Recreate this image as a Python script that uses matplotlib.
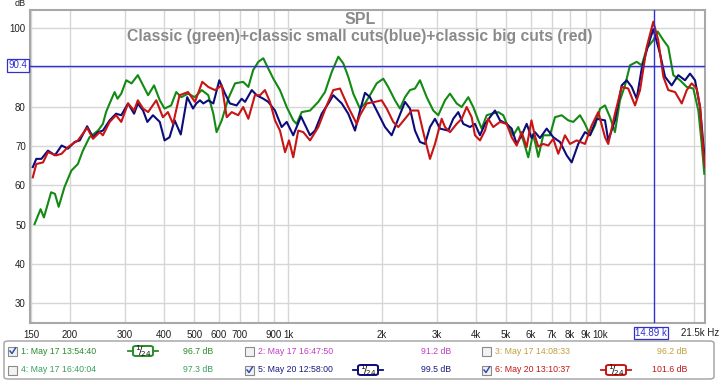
import matplotlib
matplotlib.use("Agg")
import matplotlib.pyplot as plt
from matplotlib.patches import FancyBboxPatch, Rectangle
from matplotlib.lines import Line2D

plt.rcParams['font.family'] = ['Liberation Sans', 'DejaVu Sans']

# ---------------- data ----------------
green_freq = [154, 161, 165, 174, 179, 184, 192, 202, 212, 220, 231, 246, 255, 261, 268, 278, 284, 292, 303, 315,
              330, 343, 356, 372, 388, 402, 422, 438, 455, 478, 502, 529, 555, 576, 590, 613, 643, 676, 718, 746,
              773, 803, 833, 854, 897, 942, 990, 1039, 1065, 1106, 1176, 1250, 1313, 1380, 1449, 1503, 1559, 1618,
              1700, 1764, 1830, 1923, 2019, 2094, 2201, 2284, 2370, 2459, 2551, 2647, 2782, 2920, 3029, 3184, 3303,
              3470, 3601, 3781, 3922, 4070, 4174, 4331, 4493, 4717, 4895, 5078, 5270, 5467, 5673, 5886, 6093, 6231,
              6337, 6575, 6910, 7169, 7533, 7907, 8204, 8622, 8946, 9282, 9631, 10000, 10370, 10760, 11160, 11580,
              12020, 12470, 13100, 13600, 14110, 14810, 15300, 15950, 16540, 17170, 18040, 18960, 19900, 20650,
              21170, 21580]
green_db = [50.1, 53.9, 51.8, 58.2, 57.8, 54.5, 59.5, 63.7, 65.4, 68.8, 72.2, 73.9, 75.6, 78.6, 80.8, 83.7, 82.0,
            83.3, 86.7, 85.9, 88.0, 85.4, 82.9, 85.4, 81.6, 79.5, 80.3, 83.7, 82.4, 83.3, 82.4, 84.2, 82.9, 78.2,
            73.5, 76.5, 82.0, 85.9, 86.3, 85.0, 89.3, 91.4, 92.3, 90.5, 87.1, 84.2, 79.9, 76.5, 75.6, 78.6, 79.0,
            81.2, 83.7, 88.8, 92.7, 91.0, 87.6, 83.3, 79.5, 80.8, 82.9, 85.9, 87.1, 85.0, 81.6, 79.5, 82.4, 84.2,
            84.6, 86.7, 82.4, 79.0, 77.8, 81.6, 83.3, 80.8, 79.9, 82.4, 79.9, 76.5, 74.4, 77.8, 78.2, 78.6, 77.8,
            74.8, 72.7, 74.8, 71.4, 67.1, 73.0, 70.0, 67.2, 72.7, 72.7, 77.3, 77.8, 76.5, 76.1, 77.8, 75.6, 72.7,
            75.2, 79.5, 80.3, 77.3, 73.5, 81.6, 85.4, 90.5, 91.4, 90.5, 94.8, 96.9, 99.1, 96.9, 95.2, 88.0, 86.7,
            85.0, 84.6, 79.0, 70.5, 62.9]

blue_freq = [152, 156, 162, 170, 179, 188, 197, 207, 215, 227, 237, 246, 255, 268, 281, 292, 307, 321, 330, 343,
             354, 369, 388, 402, 417, 433, 453, 475, 496, 508, 522, 535, 555, 576, 602, 628, 651, 684, 710, 728,
             765, 793, 833, 864, 908, 954, 990, 1039, 1100, 1176, 1220, 1282, 1346, 1396, 1486, 1559, 1639, 1700,
             1764, 1830, 1923, 2045, 2148, 2255, 2370, 2459, 2551, 2647, 2747, 2850, 2957, 3068, 3261, 3384, 3511,
             3644, 3829, 3972, 4122, 4277, 4437, 4604, 4777, 5019, 5208, 5404, 5607, 5817, 6036, 6185, 6418, 6743,
             7079, 7439, 7815, 8109, 8513, 8946, 9282, 9752, 10370, 10620, 11160, 11730, 12170, 12630, 13100, 13600,
             14270, 14810, 15560, 16150, 16960, 17810, 18720, 19420, 20150, 20910, 21420, 21690]
blue_db = [64.6, 66.7, 66.7, 68.8, 67.6, 70.1, 69.3, 71.0, 71.4, 75.0, 72.2, 73.5, 73.9, 76.5, 78.2, 77.8, 80.8,
           78.2, 80.8, 79.0, 76.1, 77.8, 76.1, 71.4, 72.2, 76.5, 72.9, 82.4, 79.5, 80.8, 81.6, 80.8, 81.6, 80.8,
           86.7, 83.3, 80.8, 80.3, 82.0, 81.2, 84.2, 82.9, 82.0, 81.2, 79.0, 74.8, 76.1, 72.7, 77.5, 72.7, 73.9,
           78.2, 80.8, 82.9, 80.8, 78.2, 73.9, 79.0, 83.5, 82.4, 79.0, 74.8, 72.7, 76.9, 81.2, 79.5, 73.9, 71.0,
           70.5, 74.8, 76.9, 74.4, 73.9, 76.9, 78.6, 75.6, 74.8, 75.6, 72.7, 75.6, 77.3, 79.0, 76.5, 75.6, 74.4,
           70.5, 72.7, 75.6, 72.0, 73.5, 72.0, 74.4, 72.2, 71.0, 67.6, 65.8, 70.5, 73.5, 72.7, 76.9, 76.5, 71.4,
           76.5, 85.4, 86.7, 85.0, 82.0, 89.7, 95.7, 99.7, 93.5, 87.6, 85.4, 88.0, 86.7, 88.4, 86.7, 79.9, 70.5,
           66.0]

red_freq = [152, 156, 164, 170, 181, 188, 197, 212, 227, 237, 249, 255, 268, 281, 292, 307, 321, 330, 343, 356,
            378, 397, 412, 428, 449, 478, 503, 531, 555, 583, 613, 636, 660, 692, 718, 746, 783, 813, 843, 875,
            908, 942, 978, 1007, 1039, 1078, 1119, 1176, 1250, 1330, 1396, 1467, 1559, 1660, 1700, 1786, 1899,
            1995, 2071, 2173, 2255, 2370, 2490, 2614, 2712, 2850, 2957, 3107, 3184, 3303, 3470, 3601, 3736, 3877,
            3972, 4122, 4277, 4381, 4546, 4777, 5019, 5208, 5404, 5607, 5817, 6027, 6185, 6337, 6575, 6823, 7079,
            7345, 7718, 8008, 8414, 8946, 9399, 9868, 10370, 10620, 11160, 11730, 12310, 12940, 13430, 14110,
            14810, 15360, 15950, 16540, 17390, 18270, 18960, 19660, 20400, 20910, 21420, 21690]
red_db = [62.0, 65.4, 65.8, 68.4, 67.6, 68.0, 69.7, 71.4, 74.6, 71.8, 73.5, 72.7, 76.1, 77.8, 76.1, 80.8, 79.0,
          81.6, 79.5, 78.6, 81.6, 77.3, 78.6, 75.6, 82.9, 83.7, 81.2, 86.3, 85.0, 84.2, 85.4, 77.3, 78.6, 77.8,
          79.9, 76.9, 82.9, 82.9, 84.2, 81.2, 76.5, 73.9, 68.4, 71.4, 67.1, 73.9, 73.5, 71.4, 74.8, 80.3, 84.2,
          84.6, 79.9, 75.6, 77.8, 80.8, 81.2, 81.6, 79.5, 76.1, 74.8, 76.9, 79.0, 79.0, 73.5, 66.7, 70.5, 76.9,
          74.8, 73.5, 75.6, 76.9, 79.9, 77.3, 72.7, 71.4, 73.9, 76.9, 74.8, 76.1, 75.6, 72.2, 70.1, 73.5, 69.7,
          76.5, 72.5, 69.8, 70.5, 70.1, 71.8, 68.0, 72.7, 70.5, 71.4, 70.5, 75.2, 78.6, 72.2, 70.5, 78.2, 85.0,
          84.6, 80.3, 84.2, 95.2, 101.6, 96.9, 87.6, 84.2, 83.7, 80.8, 84.2, 85.9, 84.6, 79.9, 68.8, 64.6]

grid_freqs = [150, 200, 300, 400, 500, 600, 700, 800, 900, 1000, 2000, 3000, 4000, 5000, 6000, 7000, 8000,
              9000, 10000, 20000]
grid_labels = ["150", "200", "300", "400", "500", "600", "700", "", "900", "1k", "2k", "3k", "4k", "5k", "6k",
               "7k", "8k", "9k", "10k", ""]
y_ticks = [30, 40, 50, 60, 70, 80, 90, 100]
y_labels = ["30", "40", "50", "60", "70", "80", "", "100"]

cursor_freq = 14890
cursor_db = 90.4

legend_rows = [
    [("1: May 17 13:54:40", "96.7 dB", "#2a8c2a", True, True),
     ("2: May 17 16:47:50", "91.2 dB", "#c040c0", False, False),
     ("3: May 17 14:08:33", "96.2 dB", "#c0a040", False, False)],
    [("4: May 17 16:40:04", "97.3 dB", "#3aa060", False, False),
     ("5: May 20 12:58:00", "99.5 dB", "#1a1a80", True, True),
     ("6: May 20 13:10:37", "101.6 dB", "#c01818", True, True)],
]

GREEN = "#138a13"
BLUE = "#0c0c7a"
RED = "#c81414"
CURSOR = "#3030d0"

# ---------------- figure ----------------
W, H = 719, 381
fig = plt.figure(figsize=(W / 100, H / 100), dpi=100)


def fx(x):
    return x / W


def fy(y):
    return 1 - y / H


L, R, T, B = 30, 705, 10, 323
ax = fig.add_axes([fx(L), fy(B), (R - L) / W, (B - T) / H])
ax.set_xscale("log")
ax.set_xlim(148.9, 21690)
ax.set_ylim(100 - (B - 28) / 3.93, 100 + (28 - T) / 3.93)

ax.set_xticks(grid_freqs)
ax.set_xticklabels(grid_labels)
ax.xaxis.set_minor_locator(matplotlib.ticker.NullLocator())
ax.set_yticks(y_ticks)
ax.set_yticklabels(y_labels)
ax.tick_params(axis="both", length=0, labelsize=7, colors="#202020")
ax.tick_params(axis="x", pad=5)
ax.tick_params(axis="y", pad=3)
ax.grid(True, color="#d6d6d6", lw=1.0)
ax.set_axisbelow(True)
for s in ax.spines.values():
    s.set_color("#a8a8a8")
    s.set_linewidth(1.5)

ax.plot(green_freq, green_db, color=GREEN, lw=1.5, zorder=3, solid_joinstyle="round")
ax.plot(blue_freq, blue_db, color=BLUE, lw=1.5, zorder=4, solid_joinstyle="round")
ax.plot(red_freq, red_db, color=RED, lw=1.5, zorder=5, solid_joinstyle="round")

ax.axvline(cursor_freq, color=CURSOR, lw=1.0, zorder=6)
ax.axhline(cursor_db, color=CURSOR, lw=1.0, zorder=6)

# titles
fig.text(fx(360), fy(19), "SPL", ha="center", va="center", fontsize=11.5, fontweight="bold", color="#8a8a8a")
fig.text(fx(360), fy(37), "Classic (green)+classic small cuts(blue)+classic big cuts (red)", ha="center",
         va="center", fontsize=11.3, fontweight="bold", color="#8a8a8a")

fig.text(fx(20), fy(4), "dB", ha="center", va="center", fontsize=6.5, color="#202020")
fig.text(fx(700), fy(333), "21.5k Hz", ha="center", va="center", fontsize=7, color="#202020")

# cursor labels
fig.text(fx(18), fy(65.5), f"{cursor_db}", ha="center", va="center", fontsize=7, color=CURSOR,
         bbox=dict(boxstyle="square,pad=0.15", fc="white", ec=CURSOR, lw=0.9))
fig.text(fx(651), fy(333), "14.89 k", ha="center", va="center", fontsize=7, color=CURSOR,
         bbox=dict(boxstyle="square,pad=0.15", fc="white", ec=CURSOR, lw=0.9))

# legend panel
panel = FancyBboxPatch((fx(4), fy(379)), fx(710) - fx(0), fy(341) - fy(379),
                       boxstyle="round,pad=0,rounding_size=0.006", transform=fig.transFigure,
                       fc="white", ec="#a0a0a0", lw=1.0)
fig.patches.append(panel)

col_box = [8, 245, 482]
col_icon = [143, 368, 616]
col_val = [213, 451, 687]
row_y = [351, 370]


def checkbox(x, y, checked):
    r = Rectangle((fx(x), fy(y + 4.5)), 9 / W, 9 / H, transform=fig.transFigure, fc="#f2f2f2",
                  ec="#8a8a8a", lw=0.8)
    fig.patches.append(r)
    if checked:
        fig.lines.append(Line2D([fx(x + 2), fx(x + 4), fx(x + 7.5)], [fy(y), fy(y + 2.5), fy(y - 3)],
                                transform=fig.transFigure, color="#3050b0", lw=1.1))


def icon(xc, y, color):
    fig.lines.append(Line2D([fx(xc - 15), fx(xc - 10)], [fy(y), fy(y)], transform=fig.transFigure,
                            color=color, lw=1.3))
    fig.lines.append(Line2D([fx(xc + 10), fx(xc + 15)], [fy(y), fy(y)], transform=fig.transFigure,
                            color=color, lw=1.3))
    b = FancyBboxPatch((fx(xc - 10), fy(y + 5)), 20 / W, 10 / H,
                       boxstyle="round,pad=0,rounding_size=0.004", transform=fig.transFigure,
                       fc="white", ec=color, lw=1.4)
    fig.patches.append(b)
    fig.text(fx(xc), fy(y), r"$^{1}\!/_{\!24}$", ha="center", va="center", fontsize=7.5, color="#101010")


for ri, row in enumerate(legend_rows):
    for ci, (label, val, color, checked, has_icon) in enumerate(row):
        y = row_y[ri]
        checkbox(col_box[ci], y, checked)
        fig.text(fx(col_box[ci] + 13), fy(y), label, ha="left", va="center", fontsize=6.3, color=color)
        fig.text(fx(col_val[ci]), fy(y), val, ha="right", va="center", fontsize=6.3, color=color)
        if has_icon:
            icon(col_icon[ci], y, color if ci == 0 else (BLUE if ci == 1 else RED))

fig.savefig("out.png", dpi=100)
